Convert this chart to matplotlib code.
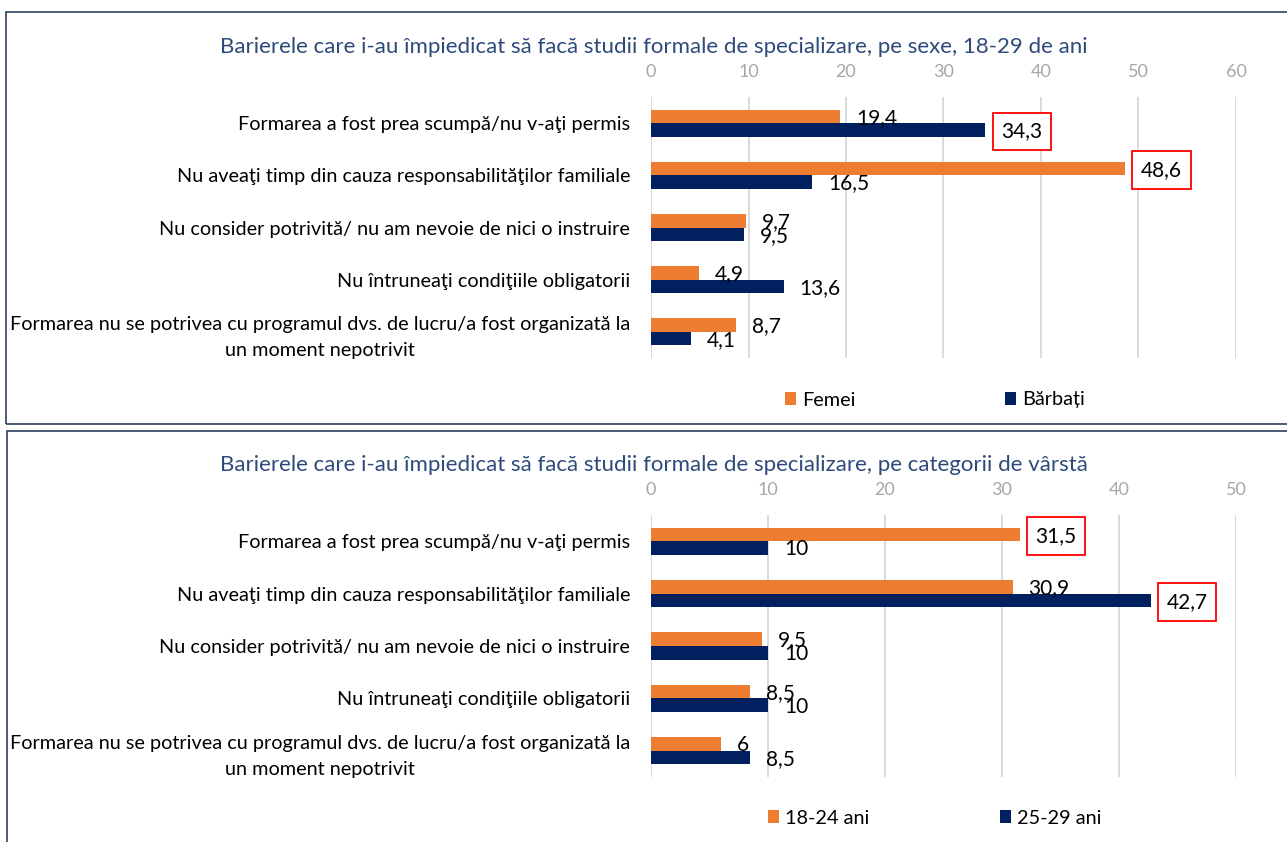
import matplotlib
matplotlib.use("Agg")
import matplotlib.pyplot as plt
import numpy as np
from matplotlib.patches import Rectangle

# data
categories = [
    "Formarea a fost prea scumpă/nu v-aţi permis",
    "Nu aveaţi timp din cauza responsabilităţilor familiale",
    "Nu consider potrivită/ nu am nevoie de nici o instruire",
    "Nu întruneaţi condiţiile obligatorii",
    "Formarea nu se potrivea cu programul dvs. de lucru/a fost organizată la\nun moment nepotrivit",
]

femei = [19.4, 48.6, 9.7, 4.9, 8.7]
barbati = [34.3, 16.5, 9.5, 13.6, 4.1]
ani_18_24 = [31.5, 30.9, 9.5, 8.5, 6]
ani_25_29 = [10, 42.7, 10, 10, 8.5]

title_sex = "Barierele care i-au împiedicat să facă studii formale de specializare, pe sexe, 18-29 de ani"
title_age = "Barierele care i-au împiedicat să facă studii formale de specializare, pe categorii de vârstă"

plt.rcParams['font.family'] = ['Lato', 'DejaVu Sans']

ORANGE = '#ED7D31'
NAVY = '#002060'
W, H = 1287, 842

fig = plt.figure(figsize=(W / 100, H / 100), dpi=100)


def px_axes(left, top, right, bottom):
    return fig.add_axes([left / W, 1 - bottom / H, (right - left) / W, (bottom - top) / H])


def fmt(v):
    return f"{v:g}".replace('.', ',')


def draw_panel(ax, s1, s2, names, xmax, boxed):
    y = np.arange(len(categories))
    h = 0.26
    ax.barh(y - h / 2, s1, height=h, color=ORANGE, label=names[0], zorder=3)
    ax.barh(y + h / 2, s2, height=h, color=NAVY, label=names[1], zorder=3)
    ax.set_xlim(0, xmax)
    ax.set_ylim(len(categories) - 0.5, -0.5)
    ax.set_xticks(range(0, xmax + 1, 10))
    ax.xaxis.tick_top()
    ax.tick_params(axis='x', length=0, pad=12, labelsize=13, labelcolor='#A6A6A6')
    ax.tick_params(axis='y', length=0, pad=15, labelsize=14.3)
    ax.set_yticks(y)
    ax.set_yticklabels(categories, multialignment='center', linespacing=1.6)
    ax.grid(axis='x', color='#D9D9D9', lw=1.4, zorder=0)
    for sp in ax.spines.values():
        sp.set_visible(False)
    for k, (series, off) in enumerate([(s1, -h / 2), (s2, h / 2)]):
        for i, v in enumerate(series):
            kw = {}
            if (k, i) in boxed:
                kw['bbox'] = dict(boxstyle='square,pad=0.42', fc='white', ec='#FF0000', lw=1.3)
            ax.annotate(fmt(v), xy=(v, i + off), xytext=(11.5, -1), textcoords='offset points',
                        ha='left', va='center', fontsize=15, color='black', zorder=5, **kw)
    return ax


ax1 = px_axes(651, 97, 1236, 358)
draw_panel(ax1, femei, barbati, ['Femei', 'Bărbați'], 60, {(0, 1), (1, 0)})
ax2 = px_axes(651, 515, 1236, 777)
draw_panel(ax2, ani_18_24, ani_25_29, ['18-24 ani', '25-29 ani'], 50, {(0, 0), (1, 1)})

fig.text(654 / W, 1 - 47 / H, title_sex, ha='center', va='center', fontsize=16, color='#2E4A7A')
fig.text(654 / W, 1 - 465 / H, title_age, ha='center', va='center', fontsize=16, color='#2E4A7A')

for ax, ly, cs in [(ax1, 400, 7.5), (ax2, 818, 6.6)]:
    ax.legend(loc='center', bbox_to_anchor=(935 / W, 1 - ly / H), bbox_transform=fig.transFigure,
              ncol=2, frameon=False, fontsize=14.3, handlelength=0.55, handleheight=0.65,
              handletextpad=0.3, columnspacing=cs)

# panel frames
fig.add_artist(Rectangle((6 / W, 1 - 424 / H), 1.1, (424 - 12) / H, transform=fig.transFigure,
                         fill=False, ec='#2F3F5F', lw=1.2))
fig.add_artist(Rectangle((7 / W, -0.05), 1.1, 0.05 + 1 - 431 / H, transform=fig.transFigure,
                         fill=False, ec='#2F3F5F', lw=1.2))

fig.savefig('out.png', dpi=100)
